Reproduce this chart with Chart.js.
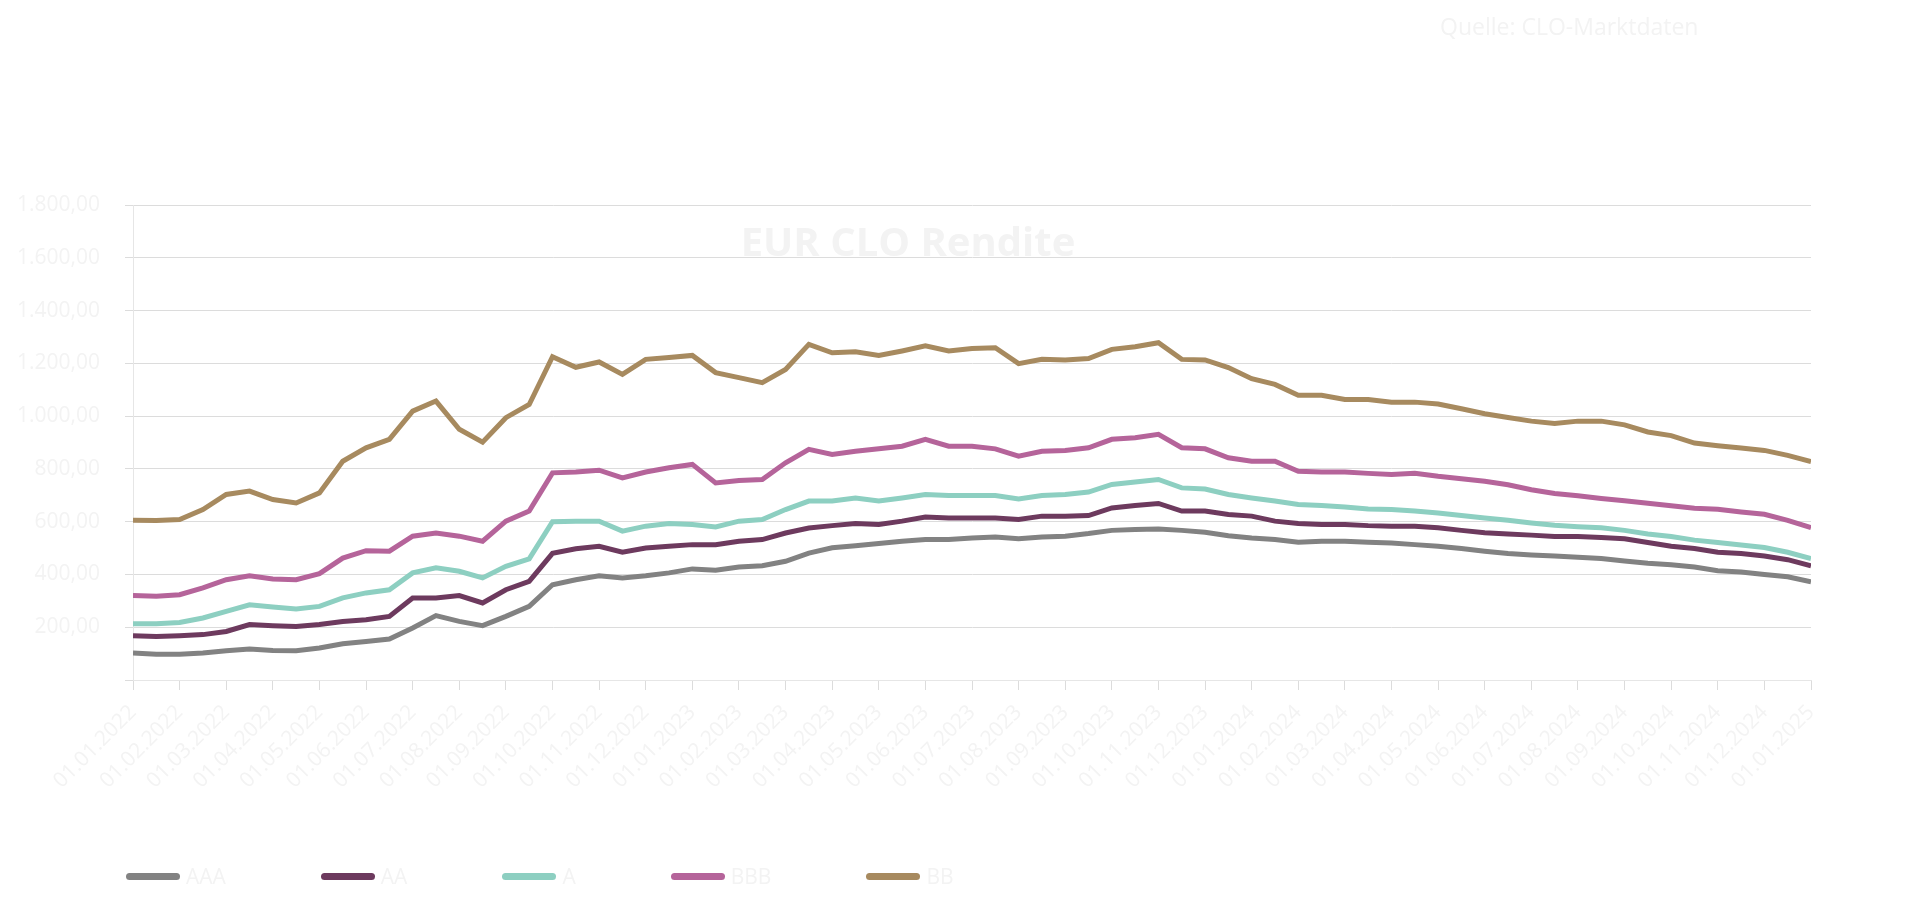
<!DOCTYPE html>
<html lang="de">
    <head>
        <meta charset="UTF-8">
        <title>EUR CLO Rendite</title>
        <style>
            body { margin: 0; background: #fff; font-family: "Open Sans", sans-serif; }
            #wrap { position: relative; width: 1920px; height: 913px; }
            #title { position: absolute; left: 0; width: 1816px; top: 221px; text-align: center;
                     font-size: 40px; line-height: 40px; font-weight: 700; color: #f3f3f3; }
            #source { position: absolute; left: 1440px; top: 15px; font-size: 23px; line-height: 23px; color: #f3f3f3; }
            #legend { position: absolute; left: 126px; top: 864px; height: 24px; display: flex; align-items: center; }
            .item { display: flex; align-items: center; margin-right: 95px; font-size: 21px; color: #f3f3f3; }
            .item span.sw { display: inline-block; width: 54px; height: 7px; border-radius: 4px; margin-right: 6px; }
        </style>
    </head>
    <body>
        <div id="wrap">
            <canvas id="myChart" width="1920" height="913"></canvas>
            <div id="title">EUR CLO Rendite</div>
            <div id="source">Quelle: CLO-Marktdaten</div>
            <div id="legend"></div>
        </div>
        <script src="https://cdn.jsdelivr.net/npm/chart.js@4.4.1/dist/chart.umd.min.js"></script>
        <script>
            // month labels on the x axis (one tick per month)
            const monthLabels = [
                '01.01.2022', '01.02.2022', '01.03.2022', '01.04.2022', '01.05.2022', '01.06.2022',
                '01.07.2022', '01.08.2022', '01.09.2022', '01.10.2022', '01.11.2022', '01.12.2022',
                '01.01.2023', '01.02.2023', '01.03.2023', '01.04.2023', '01.05.2023', '01.06.2023',
                '01.07.2023', '01.08.2023', '01.09.2023', '01.10.2023', '01.11.2023', '01.12.2023',
                '01.01.2024', '01.02.2024', '01.03.2024', '01.04.2024', '01.05.2024', '01.06.2024',
                '01.07.2024', '01.08.2024', '01.09.2024', '01.10.2024', '01.11.2024', '01.12.2024',
                '01.01.2025'
            ];

            const aaa = [102, 98, 98, 102, 111, 117, 112, 111, 121, 137,
                146, 155, 197, 244, 222, 206, 241, 279, 361, 380,
                395, 387, 395, 406, 421, 416, 428, 433, 450, 481,
                501, 509, 517, 526, 532, 532, 538, 542, 535, 542,
                545, 555, 567, 570, 572, 567, 560, 547, 538, 532,
                522, 526, 526, 522, 519, 513, 507, 498, 488, 479,
                474, 470, 465, 460, 451, 442, 437, 428, 414, 409,
                400, 391, 372];
            const aa = [168, 165, 168, 172, 184, 210, 206, 203, 210, 222,
                228, 241, 311, 311, 320, 292, 342, 374, 480, 497,
                507, 484, 500, 507, 513, 513, 526, 532, 557, 576,
                585, 593, 589, 602, 618, 614, 614, 614, 608, 621,
                621, 623, 652, 661, 669, 640, 640, 627, 621, 602,
                593, 589, 589, 585, 583, 583, 577, 567, 558, 553,
                549, 544, 544, 540, 535, 521, 507, 498, 484, 479,
                470, 456, 433];
            const a = [213, 213, 218, 235, 260, 285, 277, 269, 279, 311,
                330, 342, 406, 425, 412, 387, 431, 459, 600, 602,
                602, 564, 583, 593, 589, 580, 602, 608, 646, 678,
                678, 690, 678, 690, 703, 699, 699, 699, 686, 699,
                703, 712, 741, 750, 760, 728, 724, 703, 690, 678,
                665, 661, 656, 648, 646, 640, 633, 623, 614, 605,
                595, 586, 581, 577, 567, 553, 544, 530, 521, 512,
                502, 484, 460];
            const bbb = [320, 317, 323, 349, 380, 395, 383, 380, 403, 462,
                490, 488, 545, 557, 545, 526, 602, 640, 785, 788,
                795, 766, 788, 804, 817, 747, 756, 760, 823, 874,
                855, 867, 876, 886, 912, 886, 886, 876, 848, 867,
                870, 880, 912, 918, 931, 880, 876, 842, 829, 829,
                791, 788, 788, 783, 779, 783, 772, 763, 753, 740,
                721, 707, 698, 688, 679, 670, 660, 651, 647, 637,
                628, 605, 577];
            const bb = [605, 604, 608, 646, 703, 716, 684, 671, 709, 829,
                880, 912, 1019, 1057, 950, 901, 994, 1044, 1225, 1185,
                1205, 1158, 1215, 1222, 1230, 1165, 1146, 1127, 1177, 1272,
                1240, 1244, 1230, 1247, 1266, 1247, 1256, 1259, 1199, 1215,
                1213, 1218, 1253, 1263, 1278, 1215, 1213, 1184, 1142, 1120,
                1079, 1079, 1063, 1063, 1053, 1053, 1046, 1028, 1009, 995,
                981, 972, 981, 981, 967, 940, 926, 898, 888, 879,
                870, 851, 828];

            const seriesNames = ['AAA', 'AA', 'A', 'BBB', 'BB'];
            const seriesColors = ['#828282', '#6d3a5e', '#8dcfc1', '#b5649a', '#a78a5f'];
            const seriesData = [aaa, aa, a, bbb, bb];

            const textColor = '#f3f3f3';
            const gridColor = '#dcdcdc';
            const deFmt = new Intl.NumberFormat('de-DE', { minimumFractionDigits: 2, maximumFractionDigits: 2 });

            Chart.defaults.font.family = '"Open Sans", sans-serif';

            const datasets = seriesNames.map(function (name, s) {
                return {
                    label: name,
                    data: seriesData[s].map(function (v, i) { return { x: i / 2, y: v }; }),
                    borderColor: seriesColors[s],
                    backgroundColor: seriesColors[s],
                    borderWidth: 5,
                    pointRadius: 0,
                    tension: 0,
                    fill: false
                };
            });

            var ctx = document.getElementById('myChart').getContext('2d');
            new Chart(ctx, {
                type: 'line',
                data: { datasets: datasets },
                options: {
                    responsive: false,
                    animation: false,
                    layout: { padding: { left: 8, right: 109, top: 205, bottom: 113 } },
                    plugins: {
                        legend: { display: false },
                        title: { display: false },
                        tooltip: { enabled: false }
                    },
                    scales: {
                        x: {
                            type: 'linear',
                            min: 0,
                            max: 36,
                            afterFit: function (s) { s.height = 120; },
                            grid: { drawOnChartArea: false, color: gridColor, tickLength: 10 },
                            border: { color: '#e6e6e6' },
                            ticks: {
                                stepSize: 1,
                                autoSkip: false,
                                maxTicksLimit: 40,
                                minRotation: 45,
                                maxRotation: 45,
                                padding: 10,
                                color: textColor,
                                font: { size: 21 },
                                callback: function (v) { return monthLabels[v]; }
                            }
                        },
                        y: {
                            min: 0,
                            max: 1800,
                            afterFit: function (s) { s.width = 125; },
                            grid: { color: gridColor, tickLength: 8 },
                            border: { color: '#e6e6e6' },
                            ticks: {
                                stepSize: 200,
                                padding: 25,
                                color: textColor,
                                font: { size: 21 },
                                callback: function (v) { return v === 0 ? '' : deFmt.format(v); }
                            }
                        }
                    }
                }
            });

            // legend drawn as html, left aligned under the chart
            const legend = document.getElementById('legend');
            seriesNames.forEach(function (name, s) {
                const item = document.createElement('div');
                item.className = 'item';
                item.innerHTML = '<span class="sw" style="background:' + seriesColors[s] + '"></span>' + name;
                legend.appendChild(item);
            });
        </script>
    </body>
</html>
